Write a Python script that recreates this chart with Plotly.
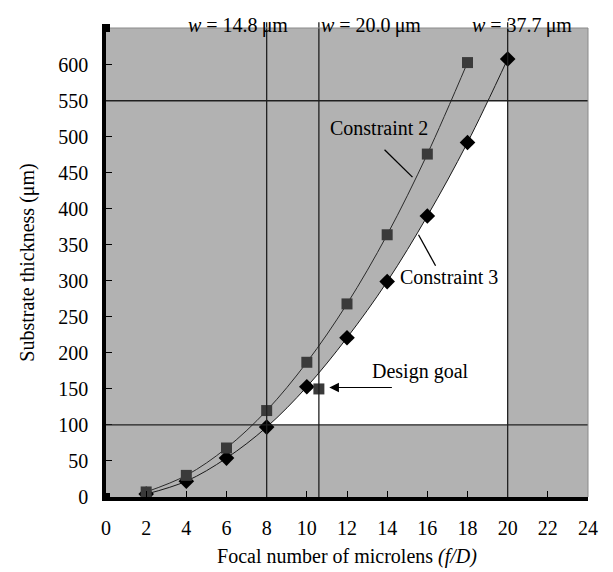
import plotly.graph_objects as go

# Focal number (f/D) sample points
f_number = [2, 4, 6, 8, 10, 12, 14, 16, 18]
f_number_c3 = [2, 4, 6, 8, 10, 12, 14, 16, 18, 20]

# Substrate thickness (um) limits for the two constraints
constraint2 = [7, 30, 68, 120, 187, 268, 364, 476, 603]
constraint3 = [4, 22, 54, 97, 153, 221, 299, 390, 492, 608]

# Design goal
goal_x = [10.6]
goal_y = [150]

# Bounds of the feasible window
thickness_bounds = [100, 550]
w_x = [8.0, 10.6, 20.0]
w_labels = ["14.8", "20.0", "37.7"]
w_label_x = [6.56, 13.17, 20.72]

x_ticks = list(range(0, 25, 2))
y_ticks = list(range(0, 601, 50))

GRAY = "#b2b2b2"
FONT = "Liberation Serif"

fig = go.Figure()

# Constraint 3: filled to the y-axis so only the area under the curve stays open
fig.add_trace(go.Scatter(
    x=f_number_c3, y=constraint3, mode="lines+markers",
    line=dict(color="#1a1a1a", width=1, shape="spline"),
    marker=dict(symbol="diamond", size=12, color="black"),
    fill="tozerox", fillcolor=GRAY, showlegend=False,
))
fig.add_trace(go.Scatter(
    x=f_number, y=constraint2, mode="lines+markers",
    line=dict(color="#2a2a2a", width=1, shape="spline"),
    marker=dict(symbol="square", size=11, color="#3a3a3a"),
    showlegend=False,
))
fig.add_trace(go.Scatter(
    x=goal_x, y=goal_y, mode="markers",
    marker=dict(symbol="square", size=11, color="#3a3a3a"),
    showlegend=False,
))

shapes = []
# open (white) design window
shapes.append(dict(type="rect", xref="x", yref="y", x0=w_x[0], x1=w_x[2],
                   y0=thickness_bounds[0], y1=thickness_bounds[1],
                   fillcolor="white", line=dict(width=0), layer="below"))
for yb in thickness_bounds:
    shapes.append(dict(type="line", xref="x", yref="y", x0=0, x1=24, y0=yb, y1=yb,
                       line=dict(color="#202020", width=1.3), layer="above"))
for xv in w_x:
    shapes.append(dict(type="line", xref="x", yref="paper", x0=xv, x1=xv, y0=0, y1=1.012,
                       line=dict(color="#202020", width=1.3), layer="above"))
# thin frame on top and right
shapes.append(dict(type="line", xref="paper", yref="paper", x0=0, x1=1, y0=1, y1=1,
                   line=dict(color="#8a8a8a", width=1)))
shapes.append(dict(type="line", xref="paper", yref="paper", x0=1, x1=1, y0=0, y1=1,
                   line=dict(color="#8a8a8a", width=1)))
# small square caps on the y-axis ends
for yc in (0, 1):
    shapes.append(dict(type="rect", xref="paper", yref="paper", x0=-4, x1=4, y0=-4, y1=4,
                       xsizemode="pixel", ysizemode="pixel", xanchor=0, yanchor=yc,
                       line=dict(width=0), fillcolor="black", layer="above"))

annotations = []
for lx, lab in zip(w_label_x, w_labels):
    annotations.append(dict(x=lx, y=1.034, xref="x", yref="paper", showarrow=False,
                            text=f"<i>w</i> = {lab}\u2009\u03bcm",
                            font=dict(family=FONT, size=20, color="black")))
annotations += [
    dict(x=13.57, y=512, text="Constraint 2", showarrow=False,
         font=dict(family=FONT, size=20, color="black")),
    dict(x=17.06, y=305, text="Constraint 3", showarrow=False,
         font=dict(family=FONT, size=20, color="black")),
    dict(x=15.66, y=174, text="Design goal", showarrow=False,
         font=dict(family=FONT, size=20, color="black")),
    # design-goal arrow
    dict(x=11.12, y=152, ax=14.31, ay=152, xref="x", yref="y", axref="x", ayref="y",
         text="", showarrow=True, arrowhead=2, arrowsize=1.6, arrowwidth=1.2,
         arrowcolor="black"),
]
# leader lines for the curve labels
shapes.append(dict(type="line", xref="x", yref="y", x0=13.87, y0=482, x1=15.26, y1=444,
                   line=dict(color="black", width=1.3)))
shapes.append(dict(type="line", xref="x", yref="y", x0=16.41, y0=321, x1=15.56, y1=364,
                   line=dict(color="black", width=1.3)))

fig.update_layout(
    width=613, height=572,
    margin=dict(l=106, r=25, t=28, b=75),
    paper_bgcolor="white", plot_bgcolor=GRAY,
    font=dict(family=FONT, size=20, color="black"),
    shapes=shapes, annotations=annotations,
    xaxis=dict(range=[0, 24], tickvals=x_ticks, ticks="inside", ticklen=6,
               tickcolor="black", tickwidth=1.3, showgrid=False, zeroline=False,
               showline=True, linecolor="black", linewidth=3.5, automargin=False,
               ticklabelstandoff=10, tickfont=dict(size=20),
               title=dict(text="Focal number of microlens <i>(f/D)</i>",
                          font=dict(size=20), standoff=12)),
    yaxis=dict(range=[0, 651], tickvals=y_ticks, ticks="inside", ticklen=6,
               tickcolor="black", tickwidth=1.3, showgrid=False, zeroline=False,
               showline=True, linecolor="black", linewidth=3.5, automargin=False,
               ticklabelstandoff=10, tickfont=dict(size=20),
               title=dict(text="Substrate thickness (\u03bcm)", font=dict(size=20),
                          standoff=19)),
)

fig.write_html("out.html")
